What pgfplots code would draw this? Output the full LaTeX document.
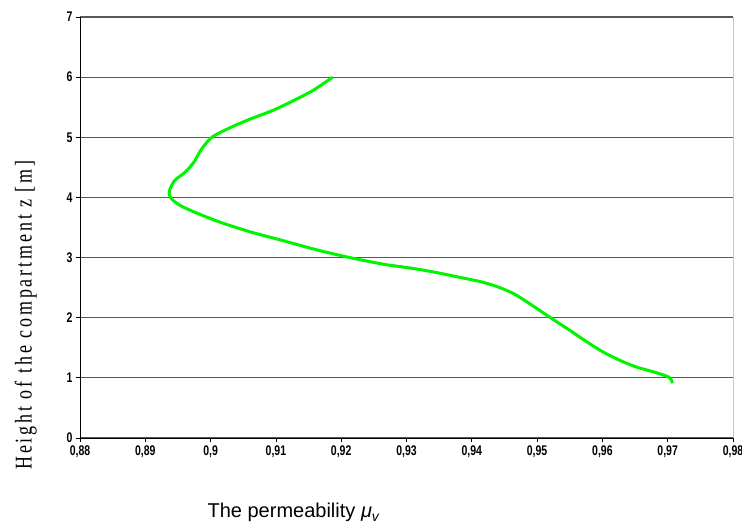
\documentclass[border=0pt]{standalone}
\usepackage{pgfplots}
\pgfplotsset{compat=1.18}
\usepackage{fontspec}
\setmainfont{Liberation Sans}
\newfontfamily\tickfont[FakeStretch=0.75]{Liberation Sans}
\newfontfamily\ylabfont[FakeStretch=0.75,LetterSpace=12]{Liberation Serif}
\definecolor{curvegreen}{RGB}{0,245,0}
\begin{document}
\begin{tikzpicture}
\useasboundingbox (0,0) rectangle (742pt,527pt);
\begin{axis}[
  at={(80pt,89pt)}, anchor=south west,
  scale only axis, width=653pt, height=421pt,
  xmin=0.88, xmax=0.98, ymin=0, ymax=7,
  xtick={0.88,0.89,...,0.98},
  ytick={0,1,...,7},
  axis lines=left,
  axis line style={-, black, line width=0.9pt},
  tick align=outside,
  major tick length=4pt,
  tick style={black, line width=0.8pt},
  ymajorgrids,
  grid style={gray!70!black, line width=1.1pt},
  /pgf/number format/assume math mode=true,
  /pgf/number format/use comma,
  /pgf/number format/fixed,
  /pgf/number format/precision=2,
  ticklabel style={font=\tickfont\bfseries\fontsize{14}{14}\selectfont},
  xlabel={The permeability {\itshape μ\textsubscript{v}}},
  xlabel style={at={(axis description cs:0.19,-0.19)}, anchor=base west,
    font=\fontsize{20}{20}\selectfont},
  ylabel={Height of the compartment z [m]},
  ylabel style={at={(axis description cs:-0.083,0.292)}, anchor=center, rotate=0,
    font=\ylabfont\fontsize{24}{24}\selectfont},
  clip=false,
]
\addplot[curvegreen, line width=3pt, smooth, tension=0.5] coordinates {
(0.9187,6.00)
(0.9157,5.78)
(0.9127,5.61)
(0.9096,5.45)
(0.9060,5.30)
(0.9030,5.16)
(0.9002,5.00)
(0.8986,4.80)
(0.8974,4.58)
(0.8961,4.42)
(0.8945,4.28)
(0.8937,4.11)
(0.8939,3.99)
(0.8958,3.84)
(0.9009,3.61)
(0.9060,3.43)
(0.9108,3.29)
(0.9162,3.13)
(0.9213,3.00)
(0.9264,2.89)
(0.9290,2.85)
(0.9321,2.80)
(0.9351,2.74)
(0.9382,2.67)
(0.9413,2.60)
(0.9438,2.52)
(0.9464,2.40)
(0.9489,2.23)
(0.9515,2.04)
(0.9550,1.79)
(0.9576,1.60)
(0.9601,1.43)
(0.9627,1.29)
(0.9652,1.18)
(0.9678,1.10)
(0.9702,1.01)
(0.9707,0.91)
};
\draw[gray!45, line width=0.8pt] (rel axis cs:1,0) -- (rel axis cs:1,1);
\end{axis}
\end{tikzpicture}
\end{document}
